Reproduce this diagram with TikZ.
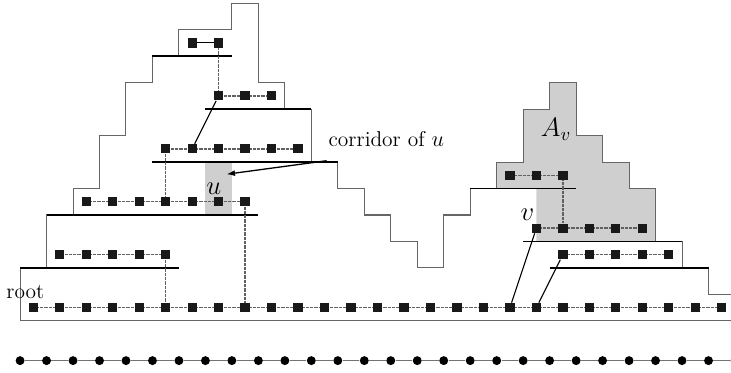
\documentclass[tikz,border=0pt]{standalone}
\usetikzlibrary{arrows.meta}
\begin{document}
\begin{tikzpicture}[x=0.5cm,y=0.5cm,
  sq/.style={rectangle, fill=black!90, draw=none, minimum size=5pt, inner sep=0pt},
  dotnode/.style={circle, fill=black, draw=none, minimum size=4.8pt, inner sep=0pt},
  outl/.style={draw=black!60, line width=0.55pt},
  sepline/.style={draw=black, line width=0.85pt},
  tedge/.style={draw=black!62, dash pattern=on 0.4pt off 0.3pt, line width=0.8pt},
  solidedge/.style={draw=black, line width=0.6pt},
  pathedge/.style={draw=black!55, line width=0.7pt},
  lbl/.style={font=\fontsize{11.5}{14}\selectfont, inner sep=0pt},
  mlbl/.style={font=\fontsize{14.5}{17}\selectfont, inner sep=0pt},
  greyfill/.style={fill=black!19, draw=none}
]
\clip (-1.258,-2.466) rectangle (26.35,11.62);

% grey regions
\fill[greyfill] (6.5,3.5) rectangle (7.5,5.5);
\fill[greyfill] (17.5,4.5) -- (17.5,5.5) -- (18.5,5.5) -- (18.5,7.5) -- (19.5,7.5)
  -- (19.5,8.5) -- (20.5,8.5) -- (20.5,6.5) -- (21.5,6.5) -- (21.5,5.5) -- (22.5,5.5)
  -- (22.5,4.5) -- (23.5,4.5) -- (23.5,2.5) -- (19,2.5) -- (19,4.5) -- cycle;

% outline
\draw[outl] (-0.5,-0.5) -- (-0.5,1.5) -- (0.5,1.5) -- (0.5,3.5) -- (1.5,3.5) -- (1.5,4.5)
  -- (2.5,4.5) -- (2.5,6.5) -- (3.5,6.5) -- (3.5,8.5) -- (4.5,8.5) -- (4.5,9.5)
  -- (5.5,9.5) -- (5.5,10.5) -- (7.5,10.5) -- (7.5,11.5) -- (8.5,11.5) -- (8.5,8.5)
  -- (9.5,8.5) -- (9.5,7.5) -- (10.5,7.5) -- (10.5,5.5) -- (11.5,5.5) -- (11.5,4.5)
  -- (12.5,4.5) -- (12.5,3.5) -- (13.5,3.5) -- (13.5,2.5) -- (14.5,2.5) -- (14.5,1.5)
  -- (15.5,1.5) -- (15.5,3.5) -- (16.5,3.5) -- (16.5,4.5) -- (17.5,4.5) -- (17.5,5.5)
  -- (18.5,5.5) -- (18.5,7.5) -- (19.5,7.5) -- (19.5,8.5) -- (20.5,8.5) -- (20.5,6.5)
  -- (21.5,6.5) -- (21.5,5.5) -- (22.5,5.5) -- (22.5,4.5) -- (23.5,4.5) -- (23.5,2.5)
  -- (24.5,2.5) -- (24.5,1.5) -- (25.5,1.5) -- (25.5,0.5) -- (27,0.5);
\draw[outl] (-0.5,-0.5) -- (27,-0.5);

% separator lines
\draw[sepline] (-0.5,1.5) -- (5.5,1.5);
\draw[sepline] (0.5,3.5) -- (8.5,3.5);
\draw[sepline] (4.5,5.5) -- (11.5,5.5);
\draw[sepline] (6.5,7.5) -- (10.5,7.5);
\draw[sepline] (4.5,9.5) -- (7.5,9.5);
\draw[sepline] (16.5,4.5) -- (20.5,4.5);
\draw[sepline] (18.5,2.5) -- (24.5,2.5);
\draw[sepline] (19.5,1.5) -- (25.5,1.5);

% nodes
\foreach \i in {0,...,26} \node[sq] (r\i) at (\i,0) {};
\foreach \i in {1,...,5} \node[sq] (a\i) at (\i,2) {};
\foreach \i in {2,...,8} \node[sq] (b\i) at (\i,4) {};
\foreach \i in {5,...,10} \node[sq] (c\i) at (\i,6) {};
\foreach \i in {7,...,9} \node[sq] (d\i) at (\i,8) {};
\foreach \i in {6,7} \node[sq] (e\i) at (\i,10) {};
\foreach \i in {20,...,24} \node[sq] (f\i) at (\i,2) {};
\foreach \i in {19,...,23} \node[sq] (g\i) at (\i,3) {};
\foreach \i in {18,...,20} \node[sq] (h\i) at (\i,5) {};
\foreach \i in {0,...,27} \node[dotnode] (k\i) at (\i-0.5,-2) {};

% row edges
\foreach \i in {0,...,25} {\pgfmathtruncatemacro\j{\i+1}\draw[tedge] (r\i) -- (r\j);}
\foreach \i in {1,...,4} {\pgfmathtruncatemacro\j{\i+1}\draw[tedge] (a\i) -- (a\j);}
\foreach \i in {2,...,7} {\pgfmathtruncatemacro\j{\i+1}\draw[tedge] (b\i) -- (b\j);}
\foreach \i in {5,...,9} {\pgfmathtruncatemacro\j{\i+1}\draw[tedge] (c\i) -- (c\j);}
\foreach \i in {7,8} {\pgfmathtruncatemacro\j{\i+1}\draw[tedge] (d\i) -- (d\j);}
\draw[solidedge] (e6) -- (e7);
\foreach \i in {20,...,23} {\pgfmathtruncatemacro\j{\i+1}\draw[tedge] (f\i) -- (f\j);}
\foreach \i in {19,...,22} {\pgfmathtruncatemacro\j{\i+1}\draw[tedge] (g\i) -- (g\j);}
\foreach \i in {18,19} {\pgfmathtruncatemacro\j{\i+1}\draw[tedge] (h\i) -- (h\j);}
\foreach \i in {0,...,26} {\pgfmathtruncatemacro\j{\i+1}\draw[pathedge] (k\i) -- (k\j);}

% tree connectors
\draw[tedge] (a5) -- (r5);
\draw[tedge] (b8) -- (r8);
\draw[tedge] (c5) -- (b5);
\draw[solidedge] (d7) -- (c6);
\draw[tedge] (e7) -- (d7);
\draw[solidedge] (g19) -- (r18);
\draw[solidedge] (f20) -- (r19);
\draw[tedge] (h20) -- (g20);

% labels
\node[lbl, anchor=base] (rootlbl) at (-0.3,0.33) {root};
\node[lbl, anchor=base west] (corr) at (11.14,6.08) {corridor of $u$};
\node[mlbl, anchor=base] (ulbl) at (6.82,4.29) {$u$};
\node[mlbl, anchor=base] (vlbl) at (18.66,3.31) {$v$};
\node[mlbl, anchor=base] (avlbl) at (19.74,6.46) {$A_v$};

\coordinate (arrtail) at (11.08,5.55);
\coordinate (arrhead) at (7.30,5.04);
\draw[black, line width=0.7pt, -{Latex[length=4.5pt,width=3.2pt]}] (arrtail) -- (arrhead);
\end{tikzpicture}
\end{document}
